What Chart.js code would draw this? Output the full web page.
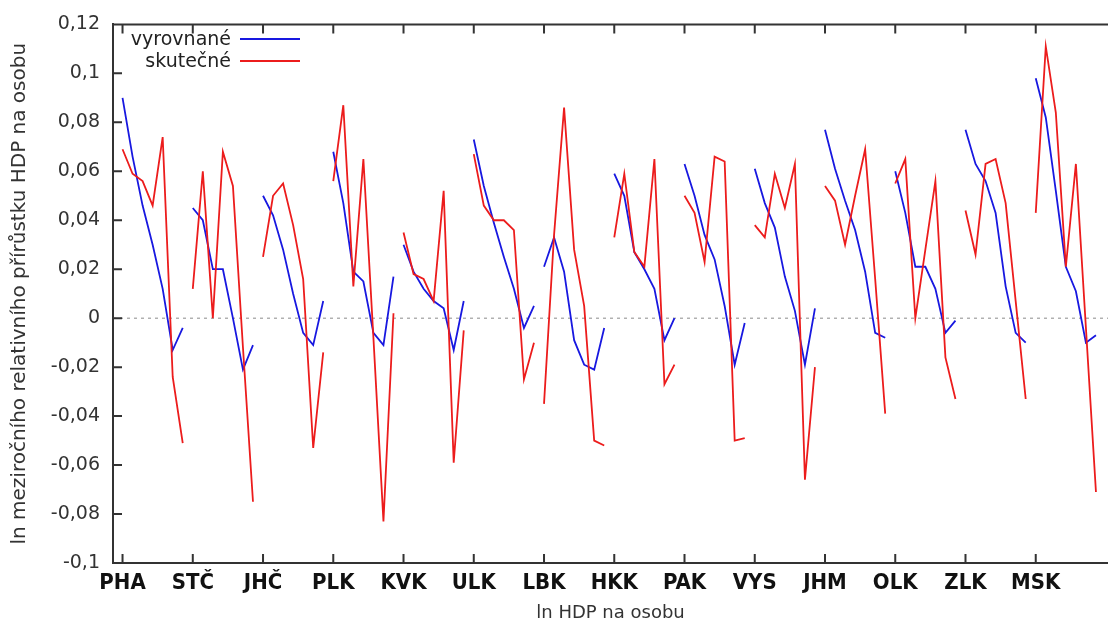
<!DOCTYPE html>
<html>
<head>
<meta charset="utf-8">
<script src="https://cdn.jsdelivr.net/npm/chart.js@4.4.1/dist/chart.umd.min.js"></script>
<style>
  html, body { margin: 0; padding: 0; background: #fff; overflow: hidden; }
  #wrap { width: 1108px; height: 626px; position: relative; }
</style>
</head>
<body>
<div id="wrap"><canvas id="chart"></canvas></div>
<script>
// kraje (7 let na kraj)
const regions = ["PHA", "STČ", "JHČ", "PLK", "KVK", "ULK", "LBK", "HKK", "PAK", "VYS", "JHM", "OLK", "ZLK", "MSK"];
const perRegion = 7;

const vyrovnane = [
  0.090, 0.066, 0.046, 0.030, 0.012, -0.013, -0.004,   // PHA
  0.045, 0.040, 0.020, 0.020, 0.000, -0.021, -0.011,   // STČ
  0.050, 0.042, 0.028, 0.010, -0.006, -0.011, 0.007,   // JHČ
  0.068, 0.047, 0.019, 0.015, -0.006, -0.011, 0.017,   // PLK
  0.030, 0.019, 0.012, 0.007, 0.004, -0.013, 0.007,    // KVK
  0.073, 0.054, 0.039, 0.025, 0.012, -0.004, 0.005,    // ULK
  0.021, 0.033, 0.019, -0.009, -0.019, -0.021, -0.004, // LBK
  0.059, 0.050, 0.027, 0.020, 0.012, -0.009, 0.000,    // HKK
  0.063, 0.050, 0.034, 0.024, 0.005, -0.019, -0.002,   // PAK
  0.061, 0.047, 0.037, 0.017, 0.003, -0.019, 0.004,    // VYS
  0.077, 0.061, 0.048, 0.036, 0.019, -0.006, -0.008,   // JHM
  0.060, 0.043, 0.021, 0.021, 0.012, -0.006, -0.001,   // OLK
  0.077, 0.063, 0.056, 0.043, 0.013, -0.006, -0.010,   // ZLK
  0.098, 0.082, 0.052, 0.021, 0.011, -0.010, -0.007    // MSK
];

const skutecne = [
  0.069, 0.059, 0.056, 0.046, 0.074, -0.024, -0.051,   // PHA
  0.012, 0.060, 0.000, 0.068, 0.054, -0.012, -0.075,   // STČ
  0.025, 0.050, 0.055, 0.038, 0.016, -0.053, -0.014,   // JHČ
  0.056, 0.087, 0.013, 0.065, -0.008, -0.083, 0.002,   // PLK
  0.035, 0.018, 0.016, 0.007, 0.052, -0.059, -0.005,   // KVK
  0.067, 0.046, 0.040, 0.040, 0.036, -0.025, -0.010,   // ULK
  -0.035, 0.034, 0.086, 0.028, 0.005, -0.050, -0.052,  // LBK
  0.033, 0.059, 0.027, 0.021, 0.065, -0.027, -0.019,   // HKK
  0.050, 0.043, 0.023, 0.066, 0.064, -0.050, -0.049,   // PAK
  0.038, 0.033, 0.059, 0.045, 0.063, -0.066, -0.020,   // VYS
  0.054, 0.048, 0.030, 0.050, 0.069, 0.016, -0.039,    // JHM
  0.055, 0.065, 0.000, 0.028, 0.056, -0.016, -0.033,   // OLK
  0.044, 0.026, 0.063, 0.065, 0.047, 0.007, -0.033,    // ZLK
  0.043, 0.111, 0.084, 0.021, 0.063, -0.004, -0.071    // MSK
];

const blue = "#1818e0";
const red = "#ec1c1c";

function toPoints(arr) {
  return arr.map((v, i) => ({x: i, y: v}));
}

// mezi kraji se cara prerusi
function breakColor(color) {
  return ctx => (ctx.p0DataIndex % perRegion === perRegion - 1) ? "rgba(0,0,0,0)" : color;
}

function fmt(v) {
  const r = Math.round(v * 100) / 100;
  if (r === 0) return "0";
  return String(r).replace(".", ",");
}

const frame = {
  id: "frame",
  beforeDatasetsDraw(chart) {
    const {ctx, chartArea: a, scales: {x, y}} = chart;
    ctx.save();
    const y0 = y.getPixelForValue(0);
    ctx.strokeStyle = "#8a8a8a";
    ctx.lineWidth = 1;
    ctx.setLineDash([3, 4]);
    ctx.beginPath();
    ctx.moveTo(a.left, y0);
    ctx.lineTo(a.right, y0);
    ctx.stroke();
    ctx.setLineDash([]);

    ctx.strokeStyle = "#333";
    ctx.lineWidth = 2;
    ctx.beginPath();
    ctx.moveTo(a.left, a.top);
    ctx.lineTo(a.right, a.top);
    y.ticks.forEach(t => {
      const p = y.getPixelForValue(t.value);
      ctx.moveTo(a.left, p);
      ctx.lineTo(a.left + 9, p);
    });
    x.ticks.forEach(t => {
      const p = x.getPixelForValue(t.value);
      ctx.moveTo(p, a.bottom);
      ctx.lineTo(p, a.bottom - 9);
      ctx.moveTo(p, a.top);
      ctx.lineTo(p, a.top + 9);
    });
    ctx.stroke();
    ctx.restore();
  },
  afterDatasetsDraw(chart) {
    const {ctx} = chart;
    const rows = [chart.data.datasets[0], chart.data.datasets[1]];
    ctx.save();
    ctx.font = "19px 'DejaVu Sans'";
    ctx.textAlign = "right";
    ctx.textBaseline = "middle";
    rows.forEach((ds, i) => {
      const ry = 40 + i * 22;
      ctx.fillStyle = "#222";
      ctx.fillText(ds.label, 231, ry);
      ctx.strokeStyle = ds.borderColor;
      ctx.lineWidth = 1.8;
      ctx.beginPath();
      ctx.moveTo(240, ry - 1);
      ctx.lineTo(300, ry - 1);
      ctx.stroke();
    });
    ctx.restore();
  }
};

const chart = new Chart(document.getElementById("chart"), {
  type: "line",
  data: {
    datasets: [
      {
        label: "vyrovnané",
        data: toPoints(vyrovnane),
        borderColor: blue,
        borderWidth: 1.8,
        pointRadius: 0,
        order: 1,
        segment: {borderColor: breakColor(blue)}
      },
      {
        label: "skutečné",
        data: toPoints(skutecne),
        borderColor: red,
        borderWidth: 1.8,
        pointRadius: 0,
        order: 0,
        segment: {borderColor: breakColor(red)}
      }
    ]
  },
  options: {
    responsive: true,
    maintainAspectRatio: false,
    animation: false,
    devicePixelRatio: 1,
    layout: {padding: {top: 20, right: 0, left: 0, bottom: 0}},
    plugins: {legend: {display: false}, tooltip: {enabled: false}},
    scales: {
      x: {
        type: "linear",
        min: -0.95,
        max: 98.2,
        afterBuildTicks: s => { s.ticks = regions.map((r, i) => ({value: i * perRegion})); },
        afterFit: s => { s.height = 63; },
        grid: {display: false, drawTicks: false},
        border: {display: true, color: "#333", width: 2},
        ticks: {
          autoSkip: false,
          maxRotation: 0,
          padding: 7,
          color: "#111",
          font: {family: "'DejaVu Sans Condensed', 'DejaVu Sans'", size: 22, weight: "bold"},
          callback: v => regions[Math.round(v / perRegion)]
        },
        title: {
          display: true,
          text: "ln HDP na osobu",
          color: "#333",
          font: {family: "'DejaVu Sans'", size: 18},
          padding: {top: 0, bottom: 2}
        }
      },
      y: {
        min: -0.1,
        max: 0.12,
        afterFit: s => { s.width = 113; },
        grid: {display: false, drawTicks: false},
        border: {display: true, color: "#333", width: 2},
        ticks: {
          stepSize: 0.02,
          padding: 13,
          color: "#333",
          font: {family: "'DejaVu Sans'", size: 19},
          callback: v => fmt(v)
        },
        title: {
          display: true,
          text: "ln meziročního relativního přírůstku HDP na osobu",
          color: "#333",
          font: {family: "'DejaVu Sans'", size: 20},
          padding: {top: 8, bottom: 0}
        }
      }
    }
  },
  plugins: [frame]
});
</script>
</body>
</html>
